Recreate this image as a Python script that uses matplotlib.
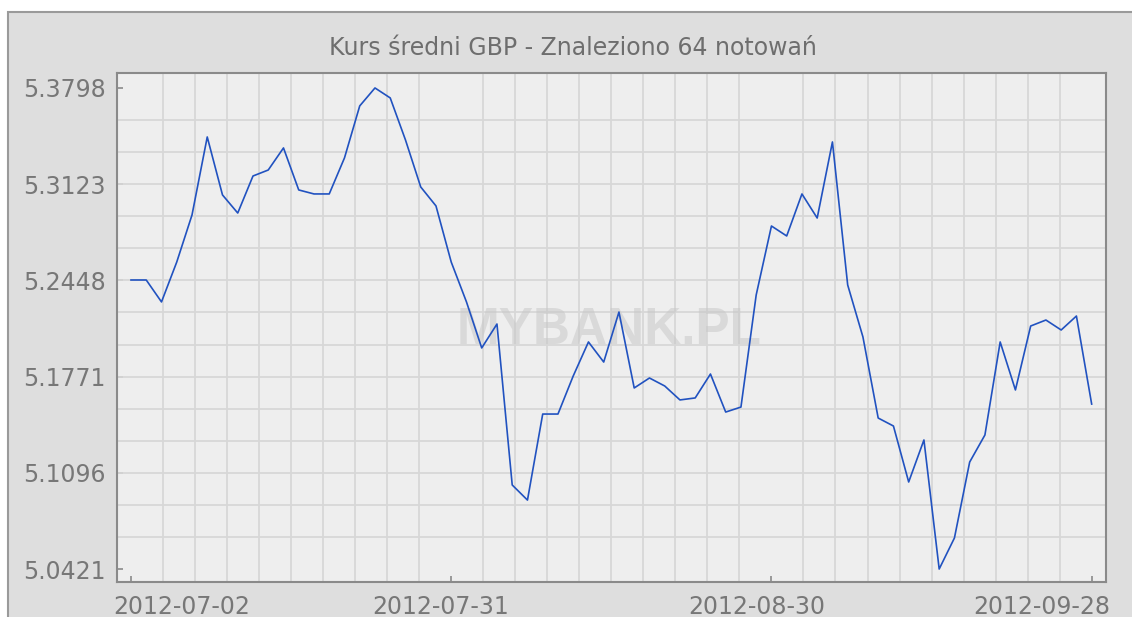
import numpy as np
import matplotlib
matplotlib.use("Agg")
import matplotlib.pyplot as plt
from matplotlib.patches import Rectangle
from matplotlib.transforms import ScaledTranslation

# ---------------------- Data (kurs średni GBP, 64 notowania) ----------------------
rates = [
    5.2450, 5.2450, 5.2296, 5.2576, 5.2906, 5.3454, 5.3047, 5.2920, 5.3180, 5.3222,
    5.3377, 5.3082, 5.3054, 5.3054, 5.3307, 5.3672, 5.3798, 5.3728, 5.3433, 5.3103,
    5.2970, 5.2576, 5.2296, 5.1973, 5.2141, 5.1011, 5.0905, 5.1509, 5.1509, 5.1776,
    5.2015, 5.1874, 5.2225, 5.1692, 5.1762, 5.1706, 5.1608, 5.1622, 5.1790, 5.1523,
    5.1558, 5.2345, 5.2829, 5.2759, 5.3054, 5.2885, 5.3419, 5.2415, 5.2050, 5.1481,
    5.1425, 5.1032, 5.1327, 5.0421, 5.0639, 5.1172, 5.1362, 5.2015, 5.1678, 5.2127,
    5.2169, 5.2099, 5.2197, 5.1579,
]
y_ticks = [5.0421, 5.1096, 5.1771, 5.2448, 5.3123, 5.3798]
date_labels = ["2012-07-02", "2012-07-31", "2012-08-30", "2012-09-28"]
date_index = [0, 21, 42, 63]

title = "Kurs średni GBP - Znaleziono 64 notowań"

# ---------------------- Figure ----------------------
fig = plt.figure(figsize=(11.32, 6.17), dpi=100, facecolor="white")
frame = Rectangle((8 / 1132, -0.02), 1.0, 1.02 - 12 / 617,
                  transform=fig.transFigure, facecolor="#dedede",
                  edgecolor="#9a9a9a", linewidth=1.5, zorder=-10)
fig.add_artist(frame)

ax = fig.add_axes([117 / 1132, 1 - 582 / 617, (1106 - 117) / 1132, (582 - 73) / 617])
ax.set_facecolor("#eeeeee")

x = np.arange(len(rates))
ax.plot(x, rates, color="#2152c0", linewidth=1.2, zorder=4)

ax.set_xlim(-0.918, 63.94)
ax.set_ylim(5.0330, 5.3903)

# grid: 10 cells between date ticks, 3 cells between value ticks
ax.set_xticks(np.linspace(0, 63, 31), minor=True)
ax.set_yticks(np.linspace(y_ticks[0], y_ticks[-1], 16), minor=True)
ax.grid(which="minor", color="#d7d7d7", linewidth=1.3, zorder=1)
ax.tick_params(which="minor", length=0)

ax.set_yticks(y_ticks, labels=[f"{v:.4f}" for v in y_ticks])
ax.set_xticks(date_index, labels=date_labels)
ax.tick_params(which="major", direction="in", length=4, width=1.2, color="#8a8a8a",
               labelsize=17, labelcolor="#777777")
ax.tick_params(axis="y", pad=8)
ax.tick_params(axis="x", pad=9)

# shift date labels the way the original chart places them
shifts_px = [51, -11, -15, -50]
for lab, dx in zip(ax.get_xticklabels(), shifts_px):
    lab.set_transform(lab.get_transform() + ScaledTranslation(dx / 100, 0, fig.dpi_scale_trans))

for s in ax.spines.values():
    s.set_color("#8a8a8a")
    s.set_linewidth(1.5)

# watermark
ax.text(0.498, 0.495, "MYBANK.PL", transform=ax.transAxes, ha="center", va="center",
        fontsize=37, fontweight="bold", family="Liberation Sans",
        color="#c8c8c8", alpha=0.55, zorder=2)

fig.text(573 / 1132, 1 - 55 / 617, title, ha="center", va="baseline",
         fontsize=17, color="#6e6e6e")

fig.savefig("out.png", dpi=100, facecolor=fig.get_facecolor())
